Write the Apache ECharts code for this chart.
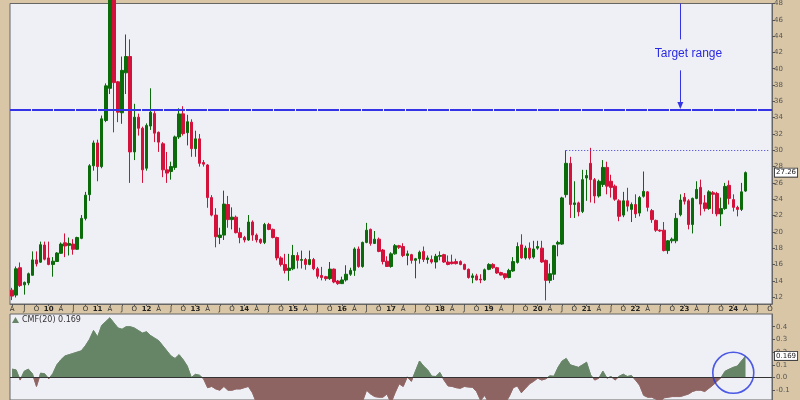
<!DOCTYPE html>
<html>
<head>
<meta charset="utf-8">
<script src="https://cdn.jsdelivr.net/npm/echarts@6/dist/echarts.min.js"></script>
<style>
html,body{margin:0;padding:0;background:#d8c6a6;}
#chart{width:800px;height:400px;}
</style>
</head>
<body>
<div id="chart"></div>
<script>
// ---- categories: monthly bars, Apr 2009 .. Oct 2024 (axis extends past last bar) ----
const startYear = 2009, startMonth = 4, monthCount = 187;
const months = [];
for (let k = 0; k < monthCount; k++) {
  const m0 = startMonth - 1 + k;
  const y = startYear + Math.floor(m0 / 12);
  const m = (m0 % 12) + 1;
  months.push(y + '-' + (m < 10 ? '0' + m : m));
}
const quarterLetters = {4: 'A', 7: 'J', 10: 'O'};

// ---- OHLC (monthly), Apr 2009 .. Apr 2024 ----
const openP = [
12.85,12.24,15.6,13.5,13.73,14.67,16.56,16.28,18.38,16.8,16.0,16.36,17.37,18.66,18.34,18.5,17.86,19.2,21.65,24.56,
28.1,30.9,28.0,33.65,37.6,50.5,38.4,34.6,39.5,41.5,29.8,34.06,32.7,27.8,32.97,34.5,32.2,30.8,27.6,27.4,
27.9,31.64,34.47,32.16,33.45,30.2,31.4,28.5,28.2,24.2,22.05,19.3,19.6,23.35,21.5,21.8,19.9,19.3,19.0,21.2,
19.6,19.06,18.7,20.9,20.3,19.3,16.8,16.0,15.27,15.47,17.1,16.5,16.6,16.0,16.6,15.47,14.65,14.5,14.26,15.43,
13.97,13.65,14.1,14.8,15.27,17.9,15.75,18.7,20.3,18.58,19.1,17.77,16.4,15.75,17.3,18.3,18.2,17.1,17.2,16.5,
16.7,17.6,16.6,16.6,16.3,17.0,17.2,16.3,16.3,16.35,16.35,16.0,15.4,14.4,14.6,14.2,14.1,15.4,16.0,15.6,
15.0,14.86,14.4,15.2,16.25,18.4,16.8,18.0,16.9,18.0,18.0,16.5,14.05,14.8,18.5,18.5,24.56,28.4,23.35,23.55,
22.5,26.6,28.4,26.4,24.4,25.8,27.9,26.2,25.6,23.8,22.05,23.8,22.75,23.35,22.3,24.36,24.9,22.6,21.4,20.2,
20.2,17.7,18.9,18.9,22.1,24.24,23.8,20.9,24.1,25.45,23.55,22.85,24.8,24.7,22.2,22.85,25.7,23.95,23.0,22.75,
25.0];
const closeP = [
12.12,15.47,13.41,13.8,14.86,16.56,16.07,18.42,16.64,16.0,16.4,17.4,18.5,18.26,18.58,17.86,19.3,21.65,24.5,28.1,
30.9,28.0,33.86,37.9,50.5,38.3,34.67,39.8,41.5,29.8,34.06,32.7,27.6,33.05,34.67,32.1,31.0,27.6,27.2,28.0,
31.64,34.46,32.04,33.5,30.2,31.4,28.4,28.3,24.2,22.05,19.4,19.6,23.4,21.5,21.8,19.9,19.3,19.0,21.2,19.6,
19.0,18.7,20.9,20.3,19.3,16.8,16.0,15.27,15.55,17.1,16.5,16.6,16.0,16.6,15.47,14.55,14.4,14.26,15.43,13.85,
13.65,14.1,14.8,15.27,17.9,15.75,18.7,20.2,18.58,19.1,17.6,16.36,15.75,17.3,18.3,18.1,17.1,17.3,16.5,16.7,
17.5,16.6,16.8,16.3,17.0,17.1,16.3,16.0,16.1,16.1,16.0,15.4,14.4,14.6,14.1,14.1,15.35,16.0,15.6,14.95,
14.7,14.4,15.27,16.35,18.2,16.8,18.0,16.8,17.9,18.2,16.3,14.05,14.86,18.3,18.7,24.16,28.4,23.35,23.55,22.45,
26.4,26.9,26.4,24.4,26.2,27.9,25.6,25.45,24.0,21.9,23.8,23.15,23.35,22.2,24.2,24.96,23.0,21.5,20.2,20.1,
17.7,18.9,19.1,21.65,23.9,23.75,20.9,24.1,25.2,23.4,22.85,24.9,24.6,22.2,22.85,25.57,24.1,23.0,22.75,24.9,
27.26];
const lowP = [
11.63,11.95,13.25,12.3,13.45,14.65,15.75,16.2,16.5,15.9,14.5,16.35,17.3,16.9,17.1,17.2,17.8,19.1,21.4,23.8,
27.5,26.2,27.8,33.45,36.9,32.2,33.45,33.25,36.9,26.0,28.8,31.8,26.0,27.5,32.5,31.0,29.8,26.7,26.0,26.4,
27.6,31.4,31.8,30.6,29.2,29.2,28.0,28.0,22.95,21.9,18.1,18.5,19.0,20.5,20.3,19.8,18.6,18.7,18.9,18.9,
18.7,18.5,18.5,20.2,19.2,16.5,15.75,14.9,14.0,15.3,15.5,15.5,15.35,15.9,15.3,14.26,14.05,14.0,14.1,13.7,
13.5,13.6,13.9,14.6,14.6,15.6,15.6,18.6,18.3,18.5,17.5,16.0,15.7,15.6,17.2,17.9,16.9,15.9,16.1,14.3,
16.1,16.3,16.1,16.1,15.5,16.5,16.2,15.9,16.0,16.0,15.9,15.3,14.26,13.7,14.05,13.7,14.0,15.3,15.45,14.85,
14.65,14.15,14.3,15.1,16.1,16.7,16.6,16.6,16.7,17.8,16.2,11.6,13.7,14.1,17.0,18.4,24.2,21.7,21.7,21.9,
22.3,23.8,23.6,23.5,24.2,25.5,24.6,24.2,23.8,21.3,21.8,22.5,21.2,21.7,21.9,24.2,22.5,21.1,20.0,20.0,
17.6,17.3,18.6,18.6,21.9,23.35,20.3,19.8,24.0,22.0,22.5,22.7,22.2,21.9,20.7,22.7,23.35,22.5,21.9,22.55,
24.9];
const highP = [
13.13,15.75,16.24,13.9,15.0,17.6,17.6,18.8,18.8,18.8,16.9,17.5,18.7,19.8,19.3,19.1,19.4,22.06,24.9,28.3,
31.2,31.3,34.26,38.2,53.0,54.0,38.5,41.5,44.2,43.6,35.7,34.5,32.9,33.3,37.6,34.8,32.3,31.0,29.8,28.6,
31.8,35.15,35.4,34.35,33.8,32.4,32.0,28.8,28.3,24.5,22.9,20.5,25.05,24.4,23.0,22.0,20.5,19.5,22.06,21.4,
19.8,19.2,21.1,21.1,20.4,19.4,17.0,17.3,17.3,18.4,17.5,17.7,16.8,17.7,16.8,15.7,15.7,14.6,16.3,15.5,
14.1,14.5,15.9,15.6,18.1,18.2,18.8,21.1,20.4,20.1,19.3,17.9,17.0,17.5,18.5,18.4,18.6,17.7,17.3,16.8,
17.7,18.2,17.1,17.1,17.3,17.6,17.3,17.1,17.2,16.7,16.5,16.1,15.5,14.9,14.85,14.8,15.5,16.15,16.15,15.7,
15.1,14.9,15.47,16.9,18.7,19.7,18.3,18.7,18.9,18.9,18.9,16.6,16.1,18.4,18.9,24.3,30.0,29.2,26.2,23.7,
27.6,27.6,30.3,26.6,26.4,28.8,28.6,27.0,25.8,24.0,24.9,25.4,23.6,24.6,24.4,27.4,25.0,22.8,21.5,20.3,
21.2,19.0,19.3,22.3,24.6,24.76,24.0,24.2,26.2,26.4,24.5,25.1,25.0,24.9,24.2,26.0,26.3,24.6,23.2,26.0,
27.4];

// ---- Chaikin Money Flow (20), one reading per bar ----
const cmf = [
0.066,0.06,-0.02,0.05,0.066,0.03,-0.07,0.034,0.03,-0.01,0.03,0.1,0.14,0.17,0.18,0.19,0.2,0.21,0.25,0.3,
0.37,0.32,0.41,0.44,0.47,0.43,0.39,0.38,0.4,0.4,0.39,0.37,0.35,0.36,0.33,0.31,0.29,0.25,0.21,0.17,
0.15,0.18,0.14,0.09,0.0,0.025,0.018,-0.01,-0.08,-0.07,-0.09,-0.1,-0.07,-0.1,-0.1,-0.09,-0.09,-0.08,-0.07,-0.12,
-0.2,-0.25,-0.27,-0.3,-0.28,-0.3,-0.32,-0.3,-0.28,-0.3,-0.27,-0.25,-0.28,-0.3,-0.32,-0.3,-0.28,-0.26,-0.25,-0.27,
-0.24,-0.22,-0.25,-0.23,-0.21,-0.2,-0.19,-0.1,-0.13,-0.15,-0.155,-0.155,-0.13,-0.2,-0.12,-0.05,-0.07,0.005,-0.03,0.05,
0.13,0.09,0.06,0.01,0.008,0.04,-0.02,-0.066,-0.07,-0.08,-0.085,-0.07,-0.075,-0.077,-0.11,-0.18,-0.14,-0.2,-0.23,-0.24,
-0.22,-0.2,-0.15,-0.08,-0.066,-0.12,-0.085,-0.05,-0.03,-0.005,-0.02,-0.01,0.013,0.01,0.08,0.13,0.15,0.1,0.09,0.08,
0.1,0.12,0.02,-0.02,-0.005,0.05,-0.005,0.008,-0.02,0.01,0.026,0.008,0.016,-0.02,-0.06,-0.14,-0.155,-0.155,-0.17,-0.19,
-0.16,-0.155,-0.15,-0.15,-0.15,-0.14,-0.13,-0.11,-0.1,-0.1,-0.11,-0.085,-0.06,-0.03,0.0,0.05,0.066,0.08,0.09,0.13,
0.169];

// ---- axis tick labels ----
const priceTicks = [12,14,16,18,20,22,24,26,28,30,32,34,36,38,40,42,44,46,48];
const cmfTicks = [-0.1,0.0,0.1,0.2,0.3,0.4];

// ---- annotations ----
const targetLevel = 35;
const breakoutLevel = 30;
const breakoutStart = 136;
const lastPrice = 27.26;
const lastCmf = 0.169;
const arrowIdx = 164;
const labelIdx = 166;

const candleData = openP.map((o, i) => [o, closeP[i], lowP[i], highP[i]]);

const UP = '#0b6b0b', DOWN = '#d3123c', BLUE = '#3434e6';
const CMF_UP = '#668466', CMF_DN = '#8e6462';
const FONT = 'DejaVu Sans';
const cmfMin = -0.177, cmfMax = 0.5;

const chart = echarts.init(document.getElementById('chart'), null, {renderer: 'canvas'});
chart.setOption({
  animation: false,
  backgroundColor: '#d8c6a6',
  textStyle: {fontFamily: FONT},
  legend: {
    left: 12, top: 316, padding: 0, itemWidth: 7, itemHeight: 6, itemGap: 3,
    data: [{name: 'CMF(20) 0.169', icon: 'triangle'}],
    textStyle: {fontSize: 8, color: '#333', fontFamily: FONT, padding: [0,0,0,-2]},
    selectedMode: false
  },
  grid: [
    {left: 10, right: 28, top: 0, height: 304, show: true, backgroundColor: '#efeff6', borderColor: '#666', borderWidth: 1},
    {left: 10, right: 28, top: 314, bottom: 0, show: true, backgroundColor: '#efeff6', borderColor: '#666', borderWidth: 1}
  ],
  xAxis: [
    {
      type: 'category', gridIndex: 0, data: months, boundaryGap: true,
      axisLine: {show: true, lineStyle: {color: '#666'}},
      axisTick: {show: true, length: 2, alignWithLabel: true, lineStyle: {color: '#555'},
        interval: (idx, v) => [1,4,7,10].indexOf(+v.slice(5)) >= 0},
      axisLabel: {
        interval: 0, fontSize: 7, margin: 2, color: '#333', fontFamily: FONT,
        formatter: v => {
          const m = +v.slice(5);
          if (m === 1) return '{b|' + v.slice(2, 4) + '}';
          return quarterLetters[m] || '';
        },
        rich: {b: {fontWeight: 'bold', fontSize: 7, color: '#222', fontFamily: FONT}}
      },
      splitLine: {show: false}
    },
    {
      type: 'category', gridIndex: 1, data: months, boundaryGap: true,
      axisLine: {show: false}, axisTick: {show: false}, axisLabel: {show: false}, splitLine: {show: false}
    }
  ],
  yAxis: [
    {
      type: 'value', gridIndex: 0, position: 'right', min: 11.15, max: 48,
      splitLine: {show: false},
      axisLine: {show: true, lineStyle: {color: '#666'}},
      axisTick: {show: true, customValues: priceTicks, length: 3, lineStyle: {color: '#555'}},
      axisLabel: {customValues: priceTicks, fontSize: 7, color: '#555', margin: 2, fontFamily: FONT}
    },
    {
      type: 'value', gridIndex: 1, position: 'right', min: cmfMin, max: cmfMax,
      splitLine: {show: false},
      axisLine: {show: true, lineStyle: {color: '#666'}},
      axisTick: {show: true, customValues: cmfTicks, length: 3, lineStyle: {color: '#555'}},
      axisLabel: {customValues: cmfTicks, fontSize: 7, color: '#555', margin: 4, fontFamily: FONT,
        formatter: v => v.toFixed(1)}
    }
  ],
  series: [
    {
      type: 'candlestick', name: 'Price', xAxisIndex: 0, yAxisIndex: 0,
      data: candleData, barWidth: 3, clip: true,
      itemStyle: {color: UP, color0: DOWN, borderColor: UP, borderColor0: DOWN, borderWidth: 1},
      markLine: {
        silent: true, symbol: 'none', animation: false,
        lineStyle: {color: BLUE, width: 1, type: 'solid'},
        label: {show: false},
        data: [
          {yAxis: targetLevel, lineStyle: {color: BLUE, width: 2, type: [21, 1], cap: 'butt'}, label: {show: false}},
          [{coord: [months[breakoutStart], breakoutLevel], lineStyle: {color: '#3a3ad8', width: 1, type: [1, 2]}},
           {coord: [months[monthCount - 1], breakoutLevel]}],
          [{coord: [months[arrowIdx], 48]}, {coord: [months[arrowIdx], 43.6]}],
          [{coord: [months[arrowIdx], 39.8], symbol: 'none'},
           {coord: [months[arrowIdx], 35.5], symbol: 'triangle', symbolSize: [6, 7], symbolRotate: 180}],
          {yAxis: lastPrice, lineStyle: {color: 'transparent', width: 0},
            label: {show: true, position: 'end', distance: 3, formatter: lastPrice.toFixed(2), fontSize: 7,
              color: '#222', backgroundColor: '#fff', borderColor: '#444', borderWidth: 1, padding: [1, 1, 0, 1], fontFamily: FONT}}
        ]
      },
      markPoint: {
        silent: true, animation: false,
        data: [{coord: [months[labelIdx], 41.9], symbol: 'circle', symbolSize: 1,
          itemStyle: {color: 'transparent'},
          label: {show: true, position: 'inside', formatter: 'Target range', color: '#2a2ae2', fontSize: 12, fontFamily: 'Liberation Sans'}}]
      }
    },
    {
      type: 'line', name: 'CMF(20) 0.169', xAxisIndex: 1, yAxisIndex: 1,
      data: cmf, symbol: 'none', showSymbol: false, clip: true,
      itemStyle: {color: CMF_UP},
      lineStyle: {width: 0.8, color: CMF_UP},
      areaStyle: {opacity: 1, color: CMF_UP},
      markLine: {
        silent: true, symbol: 'none', animation: false,
        data: [
          {yAxis: 0, lineStyle: {color: '#333', width: 1, type: 'solid'}, label: {show: false}},
          {yAxis: lastCmf, lineStyle: {color: 'transparent', width: 0},
            label: {show: true, position: 'end', distance: 3, formatter: lastCmf.toFixed(3), fontSize: 7,
              color: '#222', backgroundColor: '#fff', borderColor: '#444', borderWidth: 1, padding: [1, 1, 0, 1], fontFamily: FONT}}
        ]
      }
    },
    {
      type: 'scatter', name: 'circle', xAxisIndex: 1, yAxisIndex: 1, silent: true, z: 10,
      data: [[months[177], 0.037]], symbol: 'circle', symbolSize: 41,
      itemStyle: {color: 'rgba(0,0,0,0)', borderColor: '#2233e0', borderWidth: 1.6}
    }
  ]
});

// Split the CMF fill colour at the zero line (green above, brown below)
const yTop = chart.convertToPixel({yAxisIndex: 1}, cmfMax);
const yBot = chart.convertToPixel({yAxisIndex: 1}, cmfMin);
const yZero = chart.convertToPixel({yAxisIndex: 1}, 0);
const f = (yZero - yTop) / (yBot - yTop);
const splitGrad = {
  type: 'linear', x: 0, y: yTop, x2: 0, y2: yBot, global: true,
  colorStops: [
    {offset: 0, color: CMF_UP}, {offset: f, color: CMF_UP},
    {offset: f, color: CMF_DN}, {offset: 1, color: CMF_DN}
  ]
};
chart.setOption({series: [{}, {lineStyle: {color: splitGrad}, areaStyle: {color: splitGrad}}]});
</script>
</body>
</html>
